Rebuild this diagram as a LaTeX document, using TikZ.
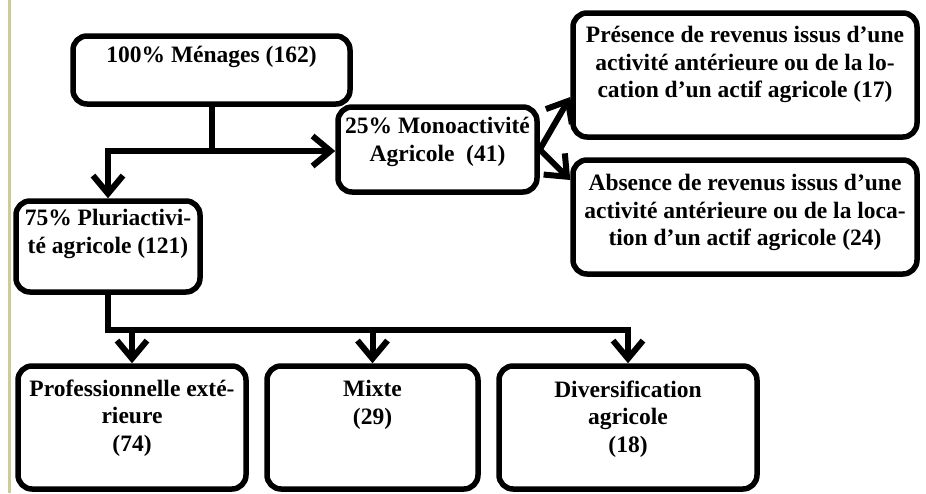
\documentclass[tikz,border=0pt]{standalone}
\usepackage{fontspec}
\setmainfont{Liberation Serif}
\usetikzlibrary{arrows.meta,positioning}
\definecolor{randlinie}{RGB}{204,204,153}

\begin{document}
\begin{tikzpicture}[x=1pt,y=-1pt,
  kasten/.style={draw,line width=5.5pt,rounded corners=14pt,inner sep=0pt},
  txt/.style={align=center,inner sep=0pt,font=\bfseries\fontsize{23.5}{27.5}\selectfont},
  pfeil/.style={line width=6pt,-{Straight Barb[length=18pt,width=30pt]}}]
  \useasboundingbox (0,0) rectangle (926,493);
  % Randlinie links
  \draw[randlinie,line width=2.5pt] (9.7,0) -- (9.7,493);
  % die Kaesten
  \node[kasten,minimum width=277pt,minimum height=68pt] (menages) at (211.5,70) {};
  \node[kasten,minimum width=199pt,minimum height=85pt] (mono) at (437.5,149.5) {};
  \node[kasten,minimum width=344pt,minimum height=124pt] (presence) at (745,75) {};
  \node[kasten,minimum width=344pt,minimum height=114pt] (absence) at (745,217) {};
  \node[kasten,minimum width=184pt,minimum height=91pt] (pluri) at (108,246.5) {};
  \node[kasten,minimum width=228pt,minimum height=123pt] (prof) at (132,427.5) {};
  \node[kasten,minimum width=211pt,minimum height=123pt] (mixte) at (372.5,427.5) {};
  \node[kasten,minimum width=258pt,minimum height=123pt] (divers) at (628,427.5) {};
  % die Texte
  \node[txt,below=13pt of menages.north] (menages-t) {100\% Ménages (162)};
  \node[txt,below=13pt of mono.north] (mono-t) {25\% Monoactivité\\Agricole\ \ (41)};
  \node[txt,below=16pt of presence.north] (presence-t) {Présence de revenus issus d’une\\activité antérieure ou de la lo-\\cation d’un actif agricole (17)};
  \node[txt,below=17pt of absence.north] (absence-t) {Absence de revenus issus d’une\\activité antérieure ou de la loca-\\tion d’un actif agricole (24)};
  \node[txt,below=11pt of pluri.north] (pluri-t) {75\% Pluriactivi-\\té agricole (121)};
  \node[txt,below=16pt of prof.north] (prof-t) {Professionnelle exté-\\rieure\\(74)};
  \node[txt,below=17pt of mixte.north] (mixte-t) {Mixte\\(29)};
  \node[txt,below=17pt of divers.north] (divers-t) {Diversification\\agricole\\(18)};
  % Verzweigung oben
  \coordinate (gabel) at (212,151);
  \draw[pfeil] (menages.south) -- (menages.south |- gabel) -| (pluri.north);
  \draw[pfeil] (gabel) -- (gabel -| mono.west);
  \draw[pfeil] (mono.east) -- ([yshift=-22pt]presence.west);
  \draw[pfeil] (mono.east) -- ([yshift=37pt]absence.west);
  % Verzweigung unten
  \coordinate (bus) at (110,330);
  \draw[pfeil] (pluri.south) -- (pluri.south |- bus) -| (divers.north);
  \foreach \k in {prof,mixte}
    \draw[pfeil] (\k.north |- bus) -- (\k.north);
\end{tikzpicture}
\end{document}
